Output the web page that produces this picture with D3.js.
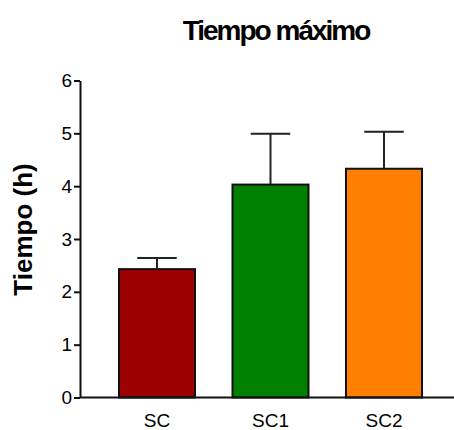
<!DOCTYPE html>
<html>
<head>
<meta charset="utf-8">
<script src="https://cdn.jsdelivr.net/npm/d3@7"></script>
<style>
  html, body { margin: 0; padding: 0; background: #fff; }
  svg { display: block; font-family: "Liberation Sans", Arial, sans-serif; }
</style>
</head>
<body>
<svg id="chart" width="454" height="430"></svg>
<script>
// Groups, mean time and error (upper half of the error bar)
const categories = ["SC", "SC1", "SC2"];
const values = [2.43, 4.03, 4.33];
const errors = [0.21, 0.96, 0.70];
const colors = ["#9c0000", "#007f00", "#ff8000"];
const yTicks = [0, 1, 2, 3, 4, 5, 6];

const svg = d3.select("#chart");

const x = d3.scaleBand()
  .domain(categories)
  .range([80, 461])
  .paddingInner(0.3304)
  .paddingOuter(0.3437);

const y = d3.scaleLinear()
  .domain([0, 6])
  .range([397.5, 80.5]);

const data = categories.map((c, i) => ({ c, v: values[i], e: errors[i], col: colors[i] }));

// Bars
svg.append("g").selectAll("rect")
  .data(data)
  .join("rect")
  .attr("x", d => x(d.c))
  .attr("y", d => y(d.v))
  .attr("width", x.bandwidth())
  .attr("height", d => y(0) - y(d.v))
  .attr("fill", d => d.col)
  .attr("stroke", "#111")
  .attr("stroke-width", 2);

// Error bars (upper only)
const eb = svg.append("g").attr("stroke", "#222").attr("stroke-width", 2);
const capW = x.bandwidth() * 0.52;
eb.selectAll("line.stem")
  .data(data)
  .join("line")
  .attr("class", "stem")
  .attr("x1", d => x(d.c) + x.bandwidth() / 2)
  .attr("x2", d => x(d.c) + x.bandwidth() / 2)
  .attr("y1", d => y(d.v))
  .attr("y2", d => y(d.v + d.e));
eb.selectAll("line.cap")
  .data(data)
  .join("line")
  .attr("class", "cap")
  .attr("x1", d => x(d.c) + x.bandwidth() / 2 - capW / 2)
  .attr("x2", d => x(d.c) + x.bandwidth() / 2 + capW / 2)
  .attr("y1", d => y(d.v + d.e))
  .attr("y2", d => y(d.v + d.e));

// Y axis
const yAxis = svg.append("g")
  .attr("transform", "translate(80,0)")
  .call(d3.axisLeft(y).tickValues(yTicks).tickFormat(d3.format("d")).tickSize(6).tickSizeOuter(0).tickPadding(2));

// X axis
const xAxis = svg.append("g")
  .attr("transform", `translate(0,${y(0)})`)
  .call(d3.axisBottom(x).tickSize(0).tickSizeOuter(0).tickPadding(16));

[yAxis, xAxis].forEach(g => {
  g.selectAll("path, line").attr("stroke", "#111").attr("stroke-width", 2);
  g.selectAll("text").attr("fill", "#000")
    .style("font-family", "'Liberation Sans', Arial, sans-serif")
    .style("font-size", "19px");
});
xAxis.select(".domain").attr("d", `M80,0H454`);

// Title
svg.append("text")
  .attr("x", 276)
  .attr("y", 40)
  .attr("text-anchor", "middle")
  .style("font-size", "28px")
  .style("font-weight", "bold")
  .style("letter-spacing", "-2px")
  .attr("fill", "#000")
  .text("Tiempo máximo");

// Y axis title
svg.append("text")
  .attr("transform", "translate(32,229.5) rotate(-90)")
  .attr("text-anchor", "middle")
  .style("font-size", "26px")
  .style("font-weight", "bold")
  .attr("fill", "#000")
  .text("Tiempo (h)");
</script>
</body>
</html>
